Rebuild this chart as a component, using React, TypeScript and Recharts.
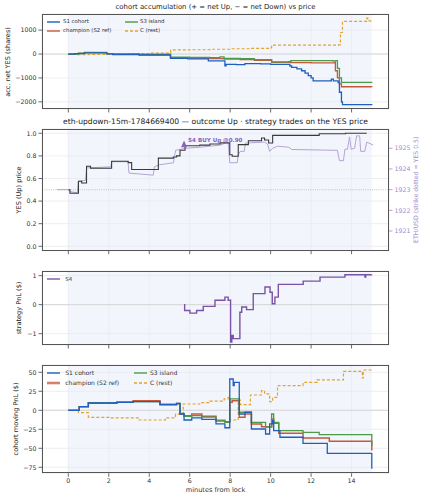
import React from 'react';
import {
  ComposedChart,
  Line,
  XAxis,
  YAxis,
  CartesianGrid,
  ReferenceArea,
  ReferenceLine,
  Scatter,
} from 'recharts';

type Pt = [number, number];

// ---- shared axis values -------------------------------------------------
const minuteTicks = [0, 2, 4, 6, 8, 10, 12, 14];
const X_DOMAIN: [number, number] = [-1.3, 15.85];
const windowStart = 0;
const windowEnd = 15;

// ---- panel 1: accumulated net YES shares --------------------------------
const accTicks = [-2000, -1000, 0, 1000];
const s1Acc: Pt[] = [
  [0, 0], [0.3, 20], [0.8, 50], [1.9, 10], [2.2, -20], [3.5, -40], [5.05, -180],
  [5.9, -200], [6.92, -290], [7.74, -490], [7.8, -430], [8.3, -440], [8.73, -400],
  [9.5, -410], [10.0, -430], [10.95, -500], [11.04, -560], [11.3, -620], [11.53, -700],
  [11.7, -800], [11.86, -900], [12.0, -1000], [12.1, -1120], [13.0, -1050], [13.1, -1120],
  [13.34, -1200], [13.4, -1600], [13.5, -2000], [13.55, -2120], [15, -2130],
];
const s2Acc: Pt[] = [
  [0, 0], [0.5, 30], [0.8, 60], [1.9, 20], [2.2, 0], [3.5, -20], [5.05, -150],
  [6.0, -170], [7.0, -190], [7.7, -210], [8.5, -230], [9.2, -260], [10.05, -350],
  [11.0, -360], [12.0, -370], [13.18, -360], [13.2, -700], [13.3, -1000], [13.4, -1250],
  [13.5, -1370], [15, -1380],
];
const s3Acc: Pt[] = [
  [0, 0], [0.5, 40], [0.8, 70], [1.9, 20], [2.2, 0], [3.5, -20], [5.05, -130],
  [6.0, -140], [7.0, -150], [7.5, -120], [7.7, -180], [8.5, -190], [9.2, -230],
  [10.05, -330], [10.9, -320], [11.0, -280], [12.0, -280], [13.1, -300], [13.2, -280],
  [13.3, -600], [13.4, -1000], [13.5, -1190], [15, -1200],
];
const cAcc: Pt[] = [
  [0, 0], [0.4, -30], [1.0, -20], [1.8, 0], [3, 20], [4, 40], [5.05, 50], [5.06, 170],
  [6, 180], [7, 200], [8, 220], [9, 240], [10.0, 260], [10.05, 370], [11, 370],
  [12, 370], [13.35, 380], [13.45, 900], [13.55, 1370], [14.7, 1380], [14.75, 1500],
  [14.8, 1390], [15, 1390],
];

// ---- panel 2: YES price and ETH/USD --------------------------------------
const priceTicks = [0, 0.2, 0.4, 0.6, 0.8, 1.0];
const ethTicks = [1921, 1922, 1923, 1924, 1925];
const strikeYes = 0.5;
const yesPrice: Pt[] = [
  [0, 0.5], [0.08, 0.47], [0.5, 0.575], [0.66, 0.56], [0.9, 0.708], [1.1, 0.69],
  [2.14, 0.752], [2.96, 0.74], [3.13, 0.68], [4.45, 0.78], [5.19, 0.79], [5.35, 0.8],
  [5.52, 0.85], [5.77, 0.89], [6.5, 0.895], [7.0, 0.905], [7.5, 0.915], [7.98, 0.81],
  [8.1, 0.797], [8.4, 0.9], [8.9, 0.934], [9.55, 0.958], [9.7, 0.94], [9.9, 0.914],
  [10.1, 0.982], [12.4, 0.996], [13.7, 1.0], [14.75, 1.0],
];
const ethUsd: Pt[] = [
  [-0.57, 1923.0], [0.0, 1923.0], [0.1, 1922.9], [0.45, 1922.85], [0.5, 1923.4],
  [0.85, 1923.45], [0.9, 1924.05], [2.1, 1924.1], [2.15, 1924.35], [2.95, 1924.35],
  [3.0, 1923.8], [4.2, 1923.7], [4.25, 1924.1], [4.5, 1924.2], [5.2, 1924.3],
  [5.3, 1924.9], [5.8, 1925.0], [6.5, 1925.05], [7.5, 1925.15], [7.9, 1925.3],
  [7.98, 1924.3], [8.35, 1924.3], [8.4, 1924.7], [8.5, 1924.85], [8.7, 1924.85],
  [8.75, 1925.25], [9.7, 1925.3], [9.85, 1925.2], [9.95, 1924.85], [10.1, 1925.0],
  [10.34, 1925.1], [10.9, 1925.05], [11.04, 1924.94], [13.3, 1924.9], [13.4, 1924.4],
  [13.6, 1924.4], [13.67, 1924.95], [13.8, 1924.95], [13.9, 1925.55], [13.98, 1924.95],
  [14.15, 1925.0], [14.25, 1925.6], [14.4, 1925.6], [14.45, 1924.85], [14.65, 1924.85],
  [14.75, 1925.3], [15.07, 1925.15],
];
const s4BuyTime = 5.72;
const s4BuyPrice = 0.9;

// ---- panel 3: strategy PnL -----------------------------------------------
const pnlTicks = [-1, 0, 1];
const s4Pnl: Pt[] = [
  [5.72, 0], [5.75, -0.2], [6.01, -0.29], [6.34, -0.2], [6.67, -0.06], [7.25, 0.15],
  [7.74, 0.26], [7.9, 0.15], [8.02, -1.29], [8.08, -1.06], [8.15, -1.17], [8.48, -0.26],
  [8.57, -0.08], [8.81, -0.17], [9.14, 0.38], [9.72, 0.61], [9.97, 0.43], [10.08, 0.03],
  [10.21, 0.26], [10.38, 0.7], [11.61, 0.81], [12.44, 0.95], [13.67, 1.03], [14.66, 0.95],
  [14.7, 1.03], [14.99, 1.04],
];

// ---- panel 4: cohort moving PnL ------------------------------------------
const movTicks = [-75, -50, -25, 0, 25, 50];
const s1Pnl: Pt[] = [
  [0, 0], [0.54, 4.7], [0.99, 9.6], [2.4, 10.5], [3.2, 11.5], [4.53, 7.4], [5.35, 9],
  [5.52, -4.9], [5.72, -12.8], [6.1, -10], [6.6, -12], [7.3, -18], [7.74, -23],
  [7.98, 41.2], [8.15, 32.4], [8.2, 36.8], [8.45, -4.9], [8.73, -2.6], [9.05, -24.6],
  [9.75, -31.2], [9.95, -18], [10.1, -13.6], [10.15, -26.8], [10.46, -35.5],
  [11.6, -43.4], [12.8, -56.6], [15.0, -77],
];
const s2Pnl: Pt[] = [
  [0, 0], [0.54, 4.7], [0.99, 9.6], [2.4, 11], [3.2, 12.6], [4.53, 7.9], [5.35, 9],
  [5.52, -4.9], [5.72, -7.1], [6.1, -5], [6.6, -8], [7.3, -14], [7.74, -15],
  [7.98, 10.5], [8.1, 12.6], [8.45, -9.2], [8.73, -4.9], [9.05, -18], [9.55, -21.6],
  [10.05, -11.4], [10.15, -17], [10.4, -30.3], [11.6, -36.5], [12.9, -40.8], [15.0, -53],
];
const s3Pnl: Pt[] = [
  [0, 0], [0.54, 4.7], [0.99, 9.6], [2.4, 10.5], [3.2, 11.3], [4.53, 7.0], [5.35, 8.5],
  [5.52, -4], [5.72, -8], [6.1, -7], [6.6, -9], [7.3, -13], [7.74, -16], [7.98, 14.9],
  [8.45, -2.6], [9.05, -15.8], [9.75, -22], [10.05, -4.9], [10.15, -15.8], [10.4, -26.8],
  [11.6, -29], [12.4, -32], [15.0, -46.5],
];
const cPnl: Pt[] = [
  [0, 0], [0.5, -3], [0.99, -9.2], [2, -10], [3.5, -12.8], [4.8, -10], [5.3, -5],
  [5.68, 8.3], [6.5, 10], [7.0, 12], [7.7, 15], [7.9, 17], [8.0, -12.8], [8.4, 13.5],
  [8.5, 7.4], [9.0, 20.1], [9.55, 25.8], [9.7, 21.5], [9.95, 11.3], [10.1, 17],
  [10.34, 32.4], [11.6, 36.8], [12.3, 39.9], [13.6, 51.3], [14.53, 42.5], [14.58, 53],
  [15.0, 53],
];

// ---- styling ---------------------------------------------------------------
const FONT = '"DejaVu Sans", sans-serif';
const C_S1 = '#1f5fbf';
const C_S2 = '#c45a3b';
const C_S3 = '#4b9b4b';
const C_C = '#e2a42a';
const C_S4 = '#7b53a6';
const C_YES = '#3a3a3a';
const C_ETH = '#b4a3d8';
const C_ETH_TEXT = '#a58bd0';
const TICK_FS = 6.3;
const LEFT_W = 42;
const RIGHT_W = 36;
const CHART_W = 425;

const rows = (pts: Pt[]) => pts.map(([t, v]) => ({ t, v }));
const fmtSigned = (v: number) => (v < 0 ? `\u2212${Math.abs(v)}` : `${v}`);

const tickStyle = { fontSize: TICK_FS, fill: '#333', fontFamily: FONT };

type PanelProps = {
  plotTop: number;
  plotBottom: number;
  xLabels?: boolean;
  yDomain: [number, number];
  yTicks: number[];
  yFormat: (v: number) => string;
  right?: React.ReactNode;
  children: React.ReactNode;
};

function Panel({ plotTop, plotBottom, xLabels, yDomain, yTicks, yFormat, right, children }: PanelProps) {
  const mTop = 6;
  const xh = xLabels ? 20 : 5;
  const h = plotBottom - plotTop + mTop + xh;
  return (
    <div style={{ position: 'absolute', left: 0, top: plotTop - mTop, width: CHART_W, height: h }}>
      <ComposedChart
        width={CHART_W}
        height={h}
        margin={{ top: mTop, right: right ? 0 : RIGHT_W, bottom: 0, left: 0 }}
      >
        <ReferenceArea
          x1={windowStart}
          x2={windowEnd}
          fill="#e6ebf7"
          fillOpacity={0.5}
          stroke="none"
          ifOverflow="hidden"
        />
        <CartesianGrid stroke="#e2e2e2" strokeWidth={0.6} />
        <XAxis
          dataKey="t"
          type="number"
          domain={X_DOMAIN}
          ticks={minuteTicks}
          interval={0}
          allowDataOverflow
          height={xh}
          axisLine={false}
          tickSize={3.5}
          tickLine={{ stroke: '#444', strokeWidth: 0.8 }}
          tick={tickStyle}
          tickFormatter={xLabels ? (v: number) => `${v}` : () => ''}
        />
        <YAxis
          type="number"
          domain={yDomain}
          ticks={yTicks}
          interval={0}
          allowDataOverflow
          width={LEFT_W}
          axisLine={false}
          tickSize={3.5}
          tickLine={{ stroke: '#444', strokeWidth: 0.8 }}
          tick={tickStyle}
          tickFormatter={yFormat}
        />
        {right}
        {children}
      </ComposedChart>
      <div
        style={{
          position: 'absolute',
          left: LEFT_W,
          top: mTop,
          width: CHART_W - LEFT_W - RIGHT_W,
          height: plotBottom - plotTop,
          border: '1.1px solid #555',
          boxSizing: 'border-box',
          pointerEvents: 'none',
        }}
      />
    </div>
  );
}

function stepLine(pts: Pt[], color: string, width = 1.3, dash?: string, yAxisId?: string, type: 'stepAfter' | 'linear' = 'stepAfter') {
  return (
    <Line
      data={rows(pts)}
      dataKey="v"
      type={type}
      stroke={color}
      strokeWidth={width}
      strokeDasharray={dash}
      dot={false}
      activeDot={false}
      isAnimationActive={false}
      yAxisId={yAxisId}
    />
  );
}

function LegendItem({ x, y, color, label, fs, dash, lw = 1.4, opacity = 1, gap = 3 }: {
  x: number; y: number; color: string; label: string; fs: number; dash?: string; lw?: number; opacity?: number; gap?: number;
}) {
  return (
    <div
      style={{
        position: 'absolute',
        left: x,
        top: y - fs * 0.6,
        height: fs * 1.2,
        display: 'flex',
        alignItems: 'center',
        fontSize: fs,
        fontFamily: FONT,
        color: '#333',
        whiteSpace: 'nowrap',
        lineHeight: 1,
      }}
    >
      <svg width={13} height={4} style={{ display: 'block' }}>
        <line x1={0} y1={2} x2={13} y2={2} stroke={color} strokeWidth={lw} strokeDasharray={dash} strokeOpacity={opacity} />
      </svg>
      <span style={{ marginLeft: gap }}>{label}</span>
    </div>
  );
}

function HText({ cx, cy, text, fs, color = '#222' }: { cx: number; cy: number; text: string; fs: number; color?: string }) {
  return (
    <div
      style={{
        position: 'absolute',
        left: cx - 200,
        top: cy - fs * 0.6,
        width: 400,
        height: fs * 1.2,
        lineHeight: `${fs * 1.2}px`,
        textAlign: 'center',
        fontSize: fs,
        fontFamily: FONT,
        color,
        whiteSpace: 'nowrap',
      }}
    >
      {text}
    </div>
  );
}

function VText({ cx, cy, text, fs, color = '#222' }: { cx: number; cy: number; text: string; fs: number; color?: string }) {
  return (
    <div
      style={{
        position: 'absolute',
        left: cx - 100,
        top: cy - fs * 0.6,
        width: 200,
        height: fs * 1.2,
        lineHeight: `${fs * 1.2}px`,
        textAlign: 'center',
        fontSize: fs,
        fontFamily: FONT,
        color,
        whiteSpace: 'nowrap',
        transform: 'rotate(-90deg)',
        transformOrigin: '50% 50%',
      }}
    >
      {text}
    </div>
  );
}

const buyLabel = `S4 BUY Up @${s4BuyPrice.toFixed(2)}`;

function BuyMarker(props: any) {
  const { cx, cy } = props;
  if (cx == null || cy == null) return null;
  return (
    <g>
      <polygon points={`${cx},${cy - 4.2} ${cx - 3},${cy + 2.6} ${cx + 3},${cy + 2.6}`} fill="#8a62b8" />
      <text
        x={cx + 4}
        y={cy - 2.2}
        fontSize={5.6}
        fontWeight="bold"
        fontFamily={FONT}
        fill="#8a62b8"
      >
        {buyLabel}
      </text>
    </g>
  );
}

export default function App() {
  const labelFs = 6.6;
  const plotCx = LEFT_W + (CHART_W - LEFT_W - RIGHT_W) / 2;
  return (
    <div style={{ position: 'absolute', left: 0, top: 0, width: 425, height: 500, background: '#fff', overflow: 'hidden' }}>
      {/* cohort accumulation */}
      <HText cx={plotCx} cy={7} text={'cohort accumulation (+ = net Up, \u2212 = net Down) vs price'} fs={6.9} />
      <VText cx={8.5} cy={61.5} text="acc. net YES (shares)" fs={labelFs} />
      <Panel plotTop={14} plotBottom={109} yDomain={[-2300, 1675]} yTicks={accTicks} yFormat={fmtSigned}>
        <ReferenceLine y={0} stroke="#cfcfcf" strokeWidth={0.8} />
        {stepLine(cAcc, C_C, 1.2, '3 2')}
        {stepLine(s2Acc, C_S2)}
        {stepLine(s3Acc, C_S3)}
        {stepLine(s1Acc, C_S1)}
      </Panel>
      <LegendItem x={47} y={22} color={C_S1} label="S1 cohort" fs={5.4} />
      <LegendItem x={124.5} y={22} color={C_S3} label="S3 island" fs={5.4} gap={2.5} />
      <LegendItem x={47} y={30.7} color={C_S2} label="champion (S2 ref)" fs={5.4} />
      <LegendItem x={124.5} y={30.7} color={C_C} label="C (rest)" fs={5.4} dash="3 2" gap={2.5} />

      {/* YES price with ETH reference */}
      <HText cx={plotCx} cy={122} text={'eth-updown-15m-1784669400 \u2014 outcome Up \u00b7 strategy trades on the YES price'} fs={7.6} />
      <VText cx={20} cy={190} text="YES (Up) price" fs={labelFs} />
      <VText cx={416} cy={190} text="ETH/USD (strike dotted = YES 0.5)" fs={6.2} color={C_ETH_TEXT} />
      <Panel
        plotTop={129}
        plotBottom={250.7}
        yDomain={[-0.039, 1.038]}
        yTicks={priceTicks}
        yFormat={(v: number) => v.toFixed(1)}
        right={
          <YAxis
            yAxisId="eth"
            orientation="right"
            type="number"
            domain={[1920.05, 1925.93]}
            ticks={ethTicks}
            interval={0}
            allowDataOverflow
            width={RIGHT_W}
            axisLine={false}
            tickSize={3.5}
            tickLine={{ stroke: C_ETH_TEXT, strokeWidth: 0.8 }}
            tick={{ ...tickStyle, fill: C_ETH_TEXT }}
          />
        }
      >
        <ReferenceLine y={strikeYes} stroke="#b5b5b5" strokeWidth={0.8} strokeDasharray="1 1.2" />
        {stepLine(ethUsd, C_ETH, 1.0, undefined, 'eth', 'linear')}
        {stepLine(yesPrice, C_YES, 1.1)}
        <Scatter
          data={[{ t: s4BuyTime, v: s4BuyPrice }]}
          dataKey="v"
          shape={BuyMarker}
          isAnimationActive={false}
        />
      </Panel>

      {/* strategy PnL */}
      <VText cx={20} cy={308} text="strategy PnL ($)" fs={labelFs} />
      <Panel plotTop={271} plotBottom={345} yDomain={[-1.39, 1.16]} yTicks={pnlTicks} yFormat={fmtSigned}>
        <ReferenceLine y={0} stroke="#cfcfcf" strokeWidth={0.8} />
        {stepLine(s4Pnl, C_S4, 1.4)}
      </Panel>
      <LegendItem x={47.3} y={279.3} color={C_S4} label="S4" fs={5.4} gap={5} />

      {/* cohort moving PnL */}
      <VText cx={17} cy={419} text="cohort moving PnL ($)" fs={labelFs} />
      <Panel plotTop={365} plotBottom={473.3} xLabels yDomain={[-82.9, 59.6]} yTicks={movTicks} yFormat={fmtSigned}>
        <ReferenceLine y={0} stroke="#cfcfcf" strokeWidth={0.8} />
        {stepLine(cPnl, C_C, 1.2, '3 2')}
        {stepLine(s2Pnl, C_S2, 1.5)}
        {stepLine(s3Pnl, C_S3)}
        {stepLine(s1Pnl, C_S1)}
      </Panel>
      <LegendItem x={47.3} y={373.3} color={C_S1} label="S1 cohort" fs={6} gap={5} />
      <LegendItem x={134} y={373.3} color={C_S3} label="S3 island" fs={6} gap={3} />
      <LegendItem x={47.3} y={383} color={C_S2} label="champion (S2 ref)" fs={6} lw={2.6} opacity={0.75} gap={5} />
      <LegendItem x={134} y={383} color={C_C} label="C (rest)" fs={6} dash="3 2" gap={3} />
      <HText cx={plotCx} cy={491} text="minutes from lock" fs={labelFs} color="#333" />
    </div>
  );
}
